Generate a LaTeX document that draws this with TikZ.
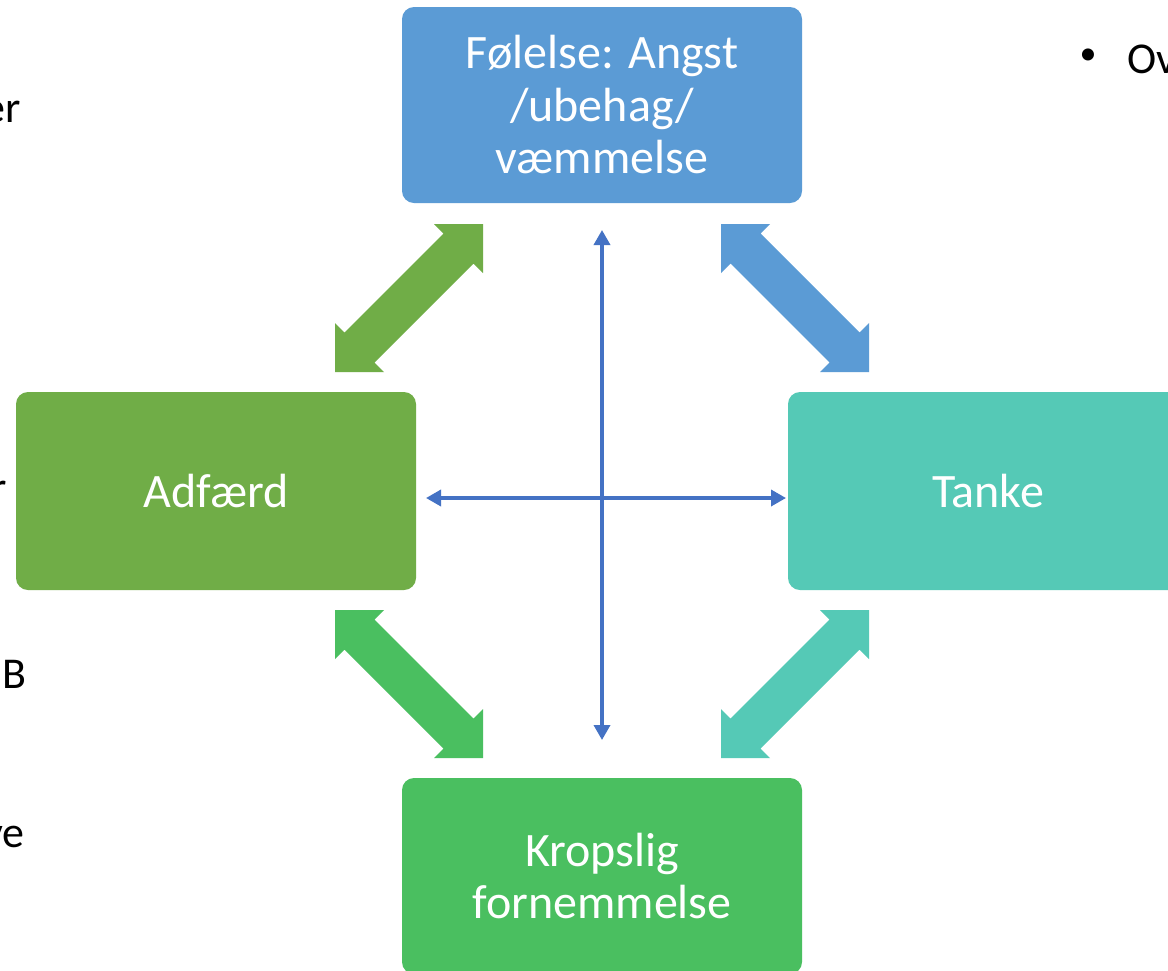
\documentclass[tikz,border=0pt]{standalone}
\usepackage{fontspec}
\setmainfont{Carlito}
\usetikzlibrary{arrows.meta}
\definecolor{cblue}{HTML}{5B9BD5}
\definecolor{cgreen}{HTML}{70AD47}
\definecolor{cteal}{HTML}{55C9B6}
\definecolor{cgreentwo}{HTML}{4ABF60}
\definecolor{cline}{HTML}{4472C4}
\newcommand\dblarr[5]{%
 \pgfmathsetmacro\xa{#2}\pgfmathsetmacro\ya{#3}%
 \pgfmathsetmacro\xb{#2+148*(#4)}\pgfmathsetmacro\yb{#3+148*(#5)}%
 \fill[#1] (\xa,\ya) -- (\xa,{\ya+49*(#5)}) -- ({\xa+9.5*(#4)},{\ya+39.5*(#5)})
   -- ({\xb-39.5*(#4)},{\yb-9.5*(#5)}) -- ({\xb-49*(#4)},\yb) -- (\xb,\yb)
   -- (\xb,{\yb-49*(#5)}) -- ({\xb-9.5*(#4)},{\yb-39.5*(#5)})
   -- ({\xa+39.5*(#4)},{\ya+9.5*(#5)}) -- ({\xa+49*(#4)},\ya) -- cycle;}
\tikzset{
  box/.style={rounded corners=12pt, minimum width=400pt, text=white, align=center,
    font=\fontsize{48}{52.5}\selectfont, inner sep=0pt},
  thin/.style={draw=cline, line width=3.5pt, {Triangle[length=15pt,width=16pt]}-{Triangle[length=15pt,width=16pt]}},
  frag/.style={font=\fontsize{44}{52}\selectfont, inner sep=0pt, text=black}
}
\begin{document}
\begin{tikzpicture}[x=1pt,y=-1pt]
\useasboundingbox (0,0) rectangle (1168,970);
\clip (0,0) rectangle (1168,970);
\fill[white] (0,0) rectangle (1168,970);
% boxes
\node[box, fill=cblue, minimum height=196pt] (F) at (602,105) {Følelse: Angst\\/ubehag/\\væmmelse};
\node[box, fill=cgreen, minimum height=198pt] (A) at (216,491) {Adfærd};
\node[box, fill=cteal, minimum height=198pt] (T) at (988,491) {Tanke};
\node[box, fill=cgreentwo, minimum height=196pt] (K) at (602,876) {Kropslig\\fornemmelse};
% block arrows
\dblarr{cgreen}{483}{224}{-1}{1}
\dblarr{cblue}{721}{224}{1}{1}
\dblarr{cgreentwo}{335}{610}{1}{1}
\dblarr{cteal}{869}{610}{-1}{1}
% thin arrows
\coordinate (vt) at (602,230);
\coordinate (vb) at (602,740);
\coordinate (hl) at (426,498);
\coordinate (hr) at (786,498);
\draw[thin] (vt) -- (vb);
\draw[thin] (hl) -- (hr);
% fragments of slide text
\node[frag, anchor=base east] (f1) at (21,122) {er};
\node[frag, anchor=base east] (f2) at (7,502) {r};
\node[frag, anchor=base east] (f3) at (27,688) {B};
\node[frag, anchor=base east] (f4) at (25,847) {ve};
\node[frag, anchor=center, font=\fontsize{34}{40}\selectfont] (b1) at (1088,57) {•};
\node[frag, anchor=base west] (b2) at (1127,73) {Ov};
\end{tikzpicture}
\end{document}
